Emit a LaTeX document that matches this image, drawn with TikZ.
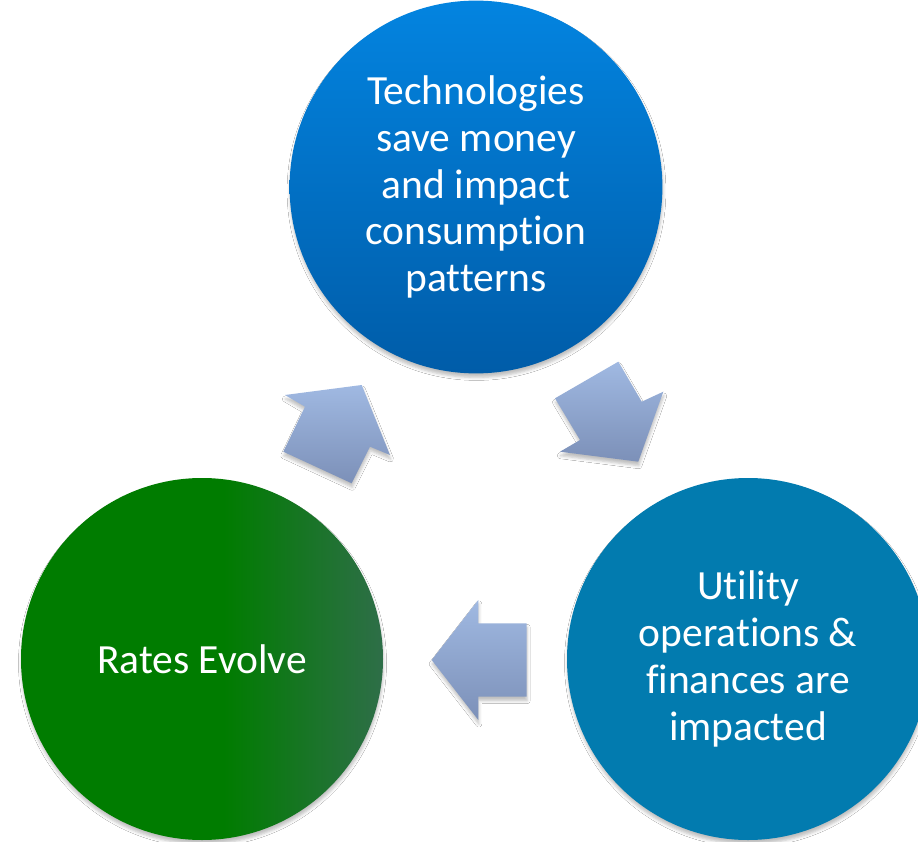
\documentclass[tikz,border=0pt]{standalone}
\usepackage{fontspec}
\setmainfont[Ligatures={NoCommon}]{Carlito}
\usetikzlibrary{shadows.blur}
\definecolor{techtop}{RGB}{3,132,224}
\definecolor{techbot}{RGB}{0,92,168}
\definecolor{gleft}{RGB}{0,124,0}
\definecolor{gright}{RGB}{46,110,72}
\definecolor{utilblue}{RGB}{2,123,175}
\definecolor{arrtop}{RGB}{160,185,226}
\definecolor{arrbot}{RGB}{124,144,184}
\pgfdeclarehorizontalshading{greenshade}{100bp}{color(0bp)=(gleft); color(53bp)=(gleft); color(75bp)=(gright); color(100bp)=(gright)}
\begin{document}
\begin{tikzpicture}[x=1pt,y=-1pt,
  softshadow/.style={blur shadow={shadow xshift=0.5pt, shadow yshift=-4pt, shadow blur radius=3pt, shadow opacity=25}},
  bubble/.style={circle, minimum size=362pt, inner sep=0pt, text=white, align=center,
    font=\fontsize{41.5}{46.8}\selectfont, softshadow},
  blockarrow/.style={top color=arrtop, bottom color=arrbot, draw=none, softshadow}]
\useasboundingbox (0,0) rectangle (918,842);
\clip (0,0) rectangle (918,842);
\fill[white] (0,0) rectangle (918,842);

\node[bubble, top color=techtop, bottom color=techbot] (tech) at (476,187)
  {\raisebox{-2pt}{\parbox{300pt}{\centering Technologies\\save money\\and impact\\consumption\\patterns}}};
\node[bubble, shading=greenshade] (rates) at (202,659) {Rates Evolve};
\node[bubble, fill=utilblue] (util) at (748,659)
  {\raisebox{-2pt}{\parbox{300pt}{\centering Utility\\operations \&\\finances are\\impacted}}};

% arrow from Rates to Technologies (up-right)
\path[blockarrow] (361.7,385) -- (390,455) -- (370,446.7) -- (351.7,483.3)
  -- (283.3,451.7) -- (305,406.7) -- (285,395) -- cycle;
% arrow from Technologies to Utility (down-right)
\path[blockarrow] (638.3,461.7) -- (560,451.7) -- (580,440) -- (555,398.3)
  -- (618.3,361.7) -- (641.7,401.7) -- (663.3,391.7) -- cycle;
% arrow from Utility to Rates (left)
\path[blockarrow] (431.7,660) -- (478.3,600) -- (478.3,623.3) -- (526.7,623.3)
  -- (526.7,696.7) -- (478.3,696.7) -- (478.3,720) -- cycle;
\end{tikzpicture}
\end{document}
